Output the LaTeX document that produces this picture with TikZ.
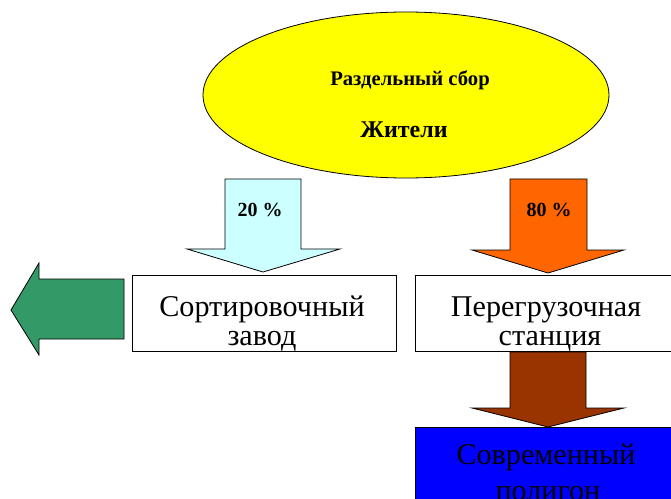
\documentclass[tikz,border=0pt]{standalone}
\usepackage{fontspec}
\setmainfont{Liberation Serif}
\usetikzlibrary{shapes.geometric,fit}
\definecolor{sunyellow}{HTML}{FFFF00}
\definecolor{palecyan}{HTML}{CCFFFF}
\definecolor{hotorange}{HTML}{FF6600}
\definecolor{seagreen}{HTML}{339966}
\definecolor{rustbrown}{HTML}{993300}
\definecolor{pureblue}{HTML}{0000FF}
\tikzset{
  stagebox/.style={draw=black, line width=0.6pt, inner sep=0pt, outer sep=0pt},
  blockarrow/.style={draw=black, line width=0.6pt, line join=miter},
  boxtext/.style={anchor=base, inner sep=0pt, font=\fontsize{22.6}{26}\selectfont},
  hubtext/.style={anchor=base, inner sep=0pt, font=\bfseries\fontsize{#1}{#1}\selectfont},
}
\begin{document}
\begin{tikzpicture}[x=0.75pt, y=-0.75pt]
\useasboundingbox (0,0) rectangle (671,499);
\clip (0,0) rectangle (671,499);
\fill[white] (0,0) rectangle (671,499);

% source: residents with separate collection
\node[draw=black, line width=0.6pt, fill=sunyellow, ellipse, inner sep=0pt,
      minimum width=304.5pt, minimum height=124.5pt] (hub) at (406,95) {};
\node[hubtext=15.5] (hubA) at (410,86) {Раздельный сбор};
\node[hubtext=18] (hubB) at (404,138) {Жители};

% destination boxes
\node[stagebox, fill=white, fit={(132,275)(396,351)}] (sort) {};
\node[stagebox, fill=white, fit={(415,275)(673,351)}] (transfer) {};
\node[stagebox, fill=pureblue, fit={(415,427)(673,520)}] (landfill) {};

% block arrows
\draw[blockarrow, fill=palecyan] (225,179) -- (301,179) -- (301,249) -- (340,249)
  -- (263,272) -- (187,249) -- (225,249) -- cycle;
\node[hubtext=15] (pctA) at (260,217) {20 \%};

\draw[blockarrow, fill=hotorange] (510,179) -- (587,179) -- (587,250) -- (624,250)
  -- (548,273) -- (472,250) -- (510,250) -- cycle;
\node[hubtext=15] (pctB) at (549,217) {80 \%};

\draw[blockarrow, fill=seagreen] (124,279) -- (124,339) -- (39,339) -- (39,355)
  -- (11,310) -- (39,263) -- (39,279) -- cycle;

\draw[blockarrow, fill=rustbrown] (510,352) -- (586,352) -- (586,408) -- (624,408)
  -- (548,427) -- (472,408) -- (510,408) -- cycle;

% box labels
\node[boxtext] (sortA) at (262,316) {Сортировочный};
\node[boxtext] (sortB) at (262,345) {завод};
\node[boxtext] (transA) at (546,316) {Перегрузочная};
\node[boxtext] (transB) at (550,345) {станция};
\node[boxtext] (landA) at (546,464) {Современный};
\node[boxtext] (landB) at (548,500) {полигон};
\end{tikzpicture}
\end{document}
